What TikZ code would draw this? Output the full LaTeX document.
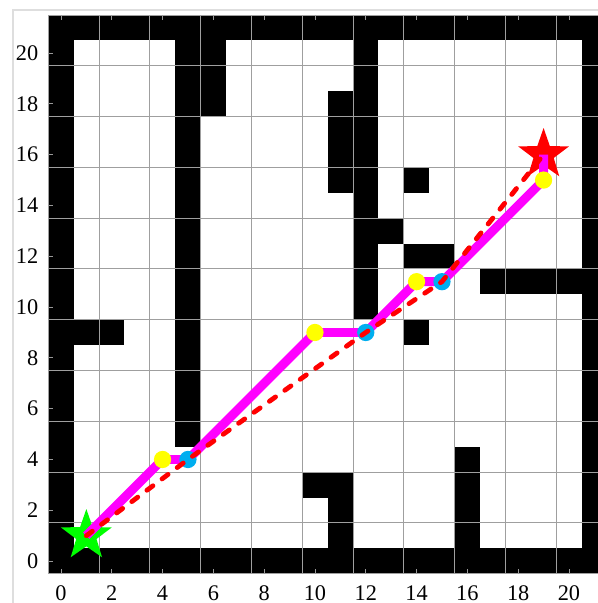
\documentclass[tikz,border=0pt]{standalone}
\usepackage{fontspec}
\setmainfont{Liberation Serif}
\usetikzlibrary{shapes.geometric}
\definecolor{skyblue}{RGB}{0,174,239}
\definecolor{pathmagenta}{RGB}{255,0,255}
\definecolor{ptyellow}{RGB}{255,255,0}
\definecolor{startgreen}{RGB}{0,255,0}
\definecolor{goalred}{RGB}{255,0,0}
\definecolor{framegray}{RGB}{222,222,222}

\begin{document}
\begin{tikzpicture}[x=0.5cm, y=0.5cm,
    cell/.style={fill=black},
    gridline/.style={draw=gray!75, line width=0.55pt},
    tickmark/.style={draw=gray!80, line width=0.5pt},
    route/.style={draw=pathmagenta, line width=5pt, line join=round},
    direct/.style={draw=goalred, line width=2.7pt, line cap=round,
                   dash pattern=on 4.2pt off 6.4pt},
    waypt/.style={circle, fill=ptyellow, minimum size=0.34cm, inner sep=0pt},
    turnpt/.style={circle, fill=skyblue, minimum size=0.34cm, inner sep=0pt},
    goal/.style={star, star points=5, star point ratio=2.5,
                 minimum size=1.05cm, inner sep=0pt},
    ticklabel/.style={font=\fontsize{12.5}{14}\selectfont, inner sep=0pt}
  ]
  \useasboundingbox (-2.40,-1.65) rectangle (21.14,22.09);
  \clip (-2.40,-1.65) rectangle (21.14,22.09);

  % Figure frame
  \draw[framegray, line width=0.8pt] (-1.89,-2) -- (-1.89,21.69) -- (22,21.69);

  % Border cells
  \foreach \i in {0,...,21} {
    \fill[cell] (\i-0.5,-0.5) rectangle ++(1,1);
    \fill[cell] (\i-0.5,20.5) rectangle ++(1,1);
    \fill[cell] (-0.5,\i-0.5) rectangle ++(1,1);
    \fill[cell] (20.5,\i-0.5) rectangle ++(1,1);
  }
  % Obstacle cells
  \foreach \y in {5,...,20} \fill[cell] (4.5,\y-0.5) rectangle ++(1,1);
  \foreach \y in {10,...,20} \fill[cell] (11.5,\y-0.5) rectangle ++(1,1);
  \foreach \x/\y in {6/18,6/19,6/20, 1/9,2/9, 11/15,11/16,11/17,11/18,
                     13/13, 14/15, 14/12,15/12, 17/11,18/11,19/11,20/11,
                     14/9, 10/3, 11/1,11/2,11/3, 16/1,16/2,16/3,16/4}
    \fill[cell] (\x-0.5,\y-0.5) rectangle ++(1,1);

  % Grid
  \draw[gridline, shift={(-0.5,-0.5)}] (0,0) grid (22,22);

  % Ticks and labels
  \foreach \v in {0,2,...,20} {
    \draw[tickmark] (\v,-0.5) -- (\v,-0.3);
    \draw[tickmark] (\v,21.5) -- (\v,21.3);
    \draw[tickmark] (-0.5,\v) -- (-0.3,\v);
    \node[ticklabel] (xl\v) at (\v,-1.26) {\v};
    \node[ticklabel, anchor=east] (yl\v) at (-0.88,\v) {\v};
  }

  % Path points
  \coordinate (p0) at (1,1);
  \coordinate (p1) at (4,4);
  \coordinate (p2) at (5,4);
  \coordinate (p3) at (10,9);
  \coordinate (p4) at (12,9);
  \coordinate (p5) at (14,11);
  \coordinate (p6) at (15,11);
  \coordinate (p7) at (19,15);
  \coordinate (p8) at (19,16);

  % Start and goal
  \node[goal, fill=startgreen] (start)  at (p0) {};
  \node[goal, fill=goalred]    (target) at (p8) {};

  % Planned route
  \draw[route] (p0) -- (p1) -- (p2) -- (p3) -- (p4) -- (p5) -- (p6) -- (p7) -- (p8);
  \node[waypt]  (w1) at (p1) {};
  \node[waypt]  (w3) at (p3) {};
  \node[waypt]  (w5) at (p5) {};
  \node[waypt]  (w7) at (p7) {};
  \node[turnpt] (t2) at (p2) {};
  \node[turnpt] (t4) at (p4) {};
  \node[turnpt] (t6) at (p6) {};

  % Shortcut line
  \draw[direct] (p0) -- (p2) -- (p4) -- (p6) -- (p8);
\end{tikzpicture}
\end{document}
